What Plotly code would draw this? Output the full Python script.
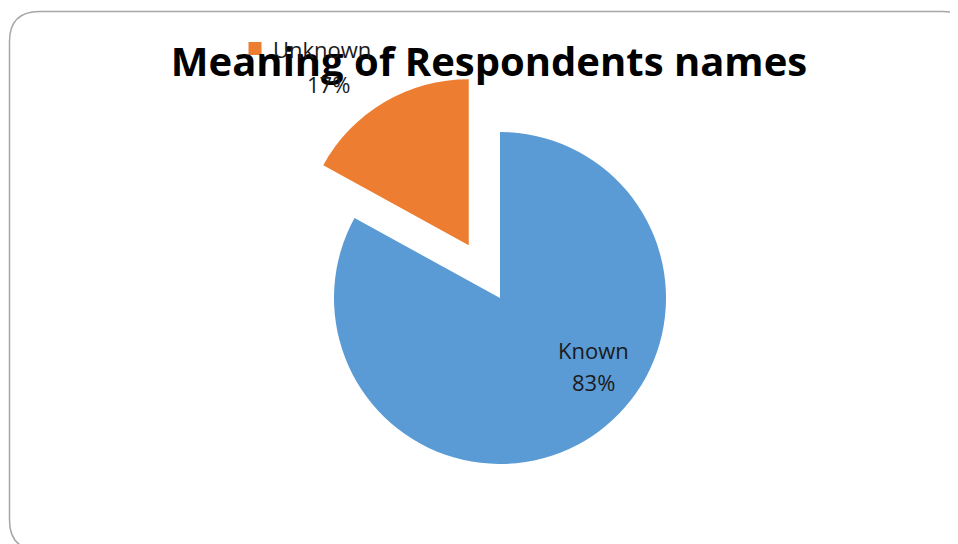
import plotly.graph_objects as go

# Data
categories = ["Known", "Unknown"]
values = [83, 17]
colors = ["#5B9BD5", "#ED7D31"]
pulls = [0, 0.37]
title_text = "Meaning of Respondents names"

# The page body has an 8px margin; the figure fills the rest of the window.
OFF = 8
W, H = 958 - OFF, 544 - OFF
total = sum(values)
pcts = [round(v / total * 100) for v in values]


def px(x):
    """page pixel x -> paper x"""
    return (x - OFF) / W


def py(y):
    """page pixel y -> paper y"""
    return 1 - (y - OFF) / H


# pie centre (500, 298) page px, radius 166 with pull room
cx, cy, rad = 500, 298, 166
half = rad * (1 + max(pulls))

fig = go.Figure()
fig.add_trace(go.Pie(
    labels=categories,
    values=values,
    marker=dict(colors=colors, line=dict(width=0)),
    pull=pulls,
    sort=False,
    direction="clockwise",
    rotation=0,
    textinfo="none",
    hoverinfo="label+percent",
    showlegend=False,
    domain=dict(x=[px(cx - half), px(cx + half)], y=[py(cy + half), py(cy - half)]),
))

# Rounded border (decorative)
r = 30
x0, y0, x1, y1 = 9.5, 11.5, 973, 550
path = (f"M {px(x0)},{py(y0 + r)} "
        f"Q {px(x0)},{py(y0)} {px(x0 + r)},{py(y0)} "
        f"L {px(x1 - r)},{py(y0)} "
        f"Q {px(x1)},{py(y0)} {px(x1)},{py(y0 + r)} "
        f"L {px(x1)},{py(y1 - r)} "
        f"Q {px(x1)},{py(y1)} {px(x1 - r)},{py(y1)} "
        f"L {px(x0 + r)},{py(y1)} "
        f"Q {px(x0)},{py(y1)} {px(x0)},{py(y1 - r)} Z")

shapes = [
    dict(type="path", xref="paper", yref="paper", path=path,
         line=dict(color="#a6a6a6", width=1.5), fillcolor="rgba(0,0,0,0)", layer="below"),
    # legend key for Unknown label
    dict(type="rect", xref="paper", yref="paper",
         x0=px(248.5), x1=px(261.5), y0=py(55), y1=py(42),
         fillcolor=colors[1], line=dict(width=0)),
]

lab_font = dict(family="Open Sans", size=22, color="#1a1a1a")
annotations = [
    dict(text=categories[0], x=px(593), y=py(350),
         xref="paper", yref="paper", showarrow=False, font=lab_font,
         xanchor="center", yanchor="middle"),
    dict(text=f"{pcts[0]}%", x=px(593), y=py(382),
         xref="paper", yref="paper", showarrow=False, font=lab_font,
         xanchor="center", yanchor="middle"),
    dict(text=categories[1], x=px(271), y=py(49),
         xref="paper", yref="paper", showarrow=False, font=lab_font,
         xanchor="left", yanchor="middle"),
    dict(text=f"{pcts[1]}%", x=px(328), y=py(84),
         xref="paper", yref="paper", showarrow=False, font=lab_font,
         xanchor="center", yanchor="middle"),
]

fig.update_layout(
    width=W, height=H,
    margin=dict(l=0, r=0, t=0, b=0),
    paper_bgcolor="white",
    plot_bgcolor="white",
    title=dict(text=f"<b>{title_text}</b>", x=px(489), y=py(62),
               xanchor="center", yanchor="middle",
               font=dict(family="Open Sans", size=40, color="black")),
    shapes=shapes,
    annotations=annotations,
)

fig.write_html("out.html")
